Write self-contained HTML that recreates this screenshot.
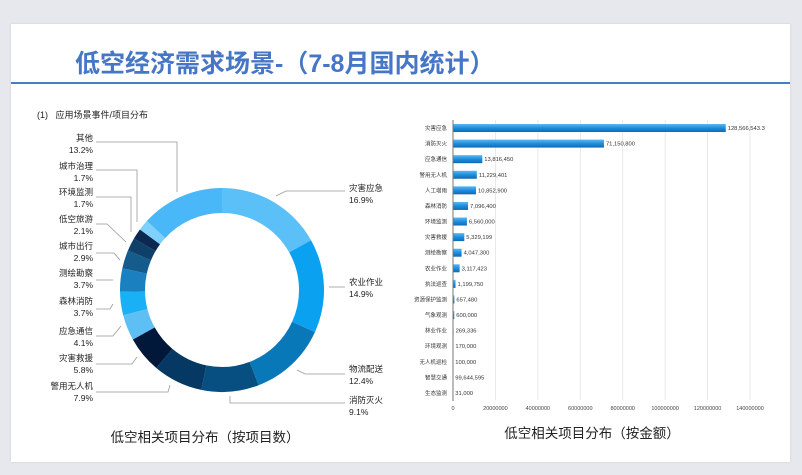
<!DOCTYPE html>
<html><head><meta charset="utf-8">
<style>
body{margin:0;width:802px;height:475px;background:#e6e8ee;overflow:hidden;font-family:"Liberation Sans","Noto Sans CJK SC",sans-serif;}
#card{position:absolute;left:11px;top:24px;width:779px;height:438px;background:#fff;box-shadow:0 0 2px #ccc;}
#title{position:absolute;left:75px;top:44px;font-size:25px;font-weight:bold;color:#4676c6;white-space:nowrap;letter-spacing:0px;}
#rule{position:absolute;left:11px;top:82px;width:779px;height:2px;background:#4a7cc0;}
svg{position:absolute;left:0;top:0;}
</style></head>
<body>
<div id="card"></div>
<div id="title">低空经济需求场景-（7-8月国内统计）</div>
<div id="rule"></div>
<svg id="chart" width="802" height="475">
<text x="37" y="118" font-size="9" fill="#222">(1)&#160;&#160;&#160;应用场景事件/项目分布</text>
<text x="205" y="442" font-size="13.5" fill="#222" text-anchor="middle">低空相关项目分布（按项目数）</text>
<text x="592" y="438" font-size="13.5" fill="#222" text-anchor="middle">低空相关项目分布（按金额）</text>
<g id="donut"></g>
<g id="bars"></g>
</svg>
<script>
const pieCats=["灾害应急","农业作业","物流配送","消防灭火","警用无人机","灾害救援","应急通信","森林消防","测绘勘察","城市出行","低空旅游","环境监测","城市治理","其他"];
const pieVals=[16.9,14.9,12.4,9.1,7.9,5.8,4.1,3.7,3.7,2.9,2.1,1.7,1.7,13.2];
const barCats=["灾害应急","消防灭火","应急通信","警用无人机","人工增雨","森林消防","环境监测","灾害救援","测绘勘察","农业作业","执法巡查","资源保护监测","气象观测","林业作业","环境观测","无人机巡检","智慧交通","生态监测"];
const barVals=[128566543.3,71150800,13816450,11229401,10852900,7096400,6560000,5329199,4047300,3117423,1199750,657480,600000,269336,170000,100000,99644.595,31000];
const barLabels=["128,566,543.3","71,150,800","13,816,450","11,229,401","10,852,900","7,096,400","6,560,000","5,329,199","4,047,300","3,117,423","1,199,750","657,480","600,000","269,336","170,000","100,000","99,644,595","31,000"];
const xTicks=[0,20000000,40000000,60000000,80000000,100000000,120000000,140000000];

const NS="http://www.w3.org/2000/svg";
function mk(tag,attrs,parent){const e=document.createElementNS(NS,tag);for(const k in attrs)e.setAttribute(k,attrs[k]);parent.appendChild(e);return e;}

// Donut
const colors=["#5bbff8","#0aa2f0","#0878b8","#064f80","#053862","#02183a","#5ebff5","#1ab0f5","#1a80c0","#155c8c","#0f406a","#0a2850","#7fd0fa","#4ab8f8"];
const cx=222,cy=290,R=102,r=77;
const dg=document.getElementById('donut');
const total=pieVals.reduce((a,b)=>a+b,0);
let ang=0;
function pt(a,rad){return [cx+rad*Math.sin(a),cy-rad*Math.cos(a)];}
pieVals.forEach((v,i)=>{
  const a0=ang/total*2*Math.PI, a1=(ang+v)/total*2*Math.PI; ang+=v;
  const large=(a1-a0)>Math.PI?1:0;
  const [x0,y0]=pt(a0,R),[x1,y1]=pt(a1,R),[x2,y2]=pt(a1,r),[x3,y3]=pt(a0,r);
  const p=mk('path',{d:`M${x0},${y0}A${R},${R} 0 ${large} 1 ${x1},${y1}L${x2},${y2}A${r},${r} 0 ${large} 0 ${x3},${y3}Z`,fill:colors[i]},dg);
  
  
});
const labPos=[[349,191,'start'],[349,285,'start'],[349,372,'start'],[349,403,'start'],[93,389,'end'],[93,361,'end'],[93,334,'end'],[93,304,'end'],[93,276,'end'],[93,249,'end'],[93,222,'end'],[93,195,'end'],[93,169,'end'],[93,141,'end']];
const leaders=["276,196 286,191 345,191","329,287 345,287","297,370 305,374 345,374","230,396 230,403 345,403","170,385 168,392 96,392","137,357 132,364 96,364","121,326 113,336 96,336","113,304 110,309 96,309","113,280 96,280","120,260 114,253 96,253","126,242 107,224 96,224","131,232 131,197 96,197","137,222 137,170 96,170","177,192 177,142 96,142"];
pieCats.forEach((c,i)=>{
  const [x,y,an]=labPos[i];
  const l=mk('polyline',{points:leaders[i],fill:'none',stroke:'#999','stroke-width':0.8},dg);
  
  
  const t=mk('text',{x:x,y:y,'font-size':8.5,fill:'#222','text-anchor':an},dg);
  
  
  t.textContent=c;
  const t2=mk('text',{x:x,y:y+12,'font-size':8.5,fill:'#222','text-anchor':an},dg);
  
  
  t2.textContent=pieVals[i].toFixed(1)+'%';
});

// Bars
const bg=document.getElementById('bars');
const x0=453,x1=750,maxT=140000000;
const xs=v=>x0+v/maxT*(x1-x0);
const yTop=128,step=(393-128)/(barCats.length-1);
const ys=i=>yTop+i*step;
const defs=mk('defs',{},bg);
const gr=mk('linearGradient',{id:'bg',x1:0,y1:0,x2:0,y2:1},defs);
mk('stop',{offset:0,'stop-color':'#5ab8f2'},gr);
mk('stop',{offset:0.5,'stop-color':'#1b8ee0'},gr);
mk('stop',{offset:1,'stop-color':'#1468b0'},gr);
xTicks.forEach(t=>{
  if(t>0){const g=mk('line',{x1:xs(t),x2:xs(t),y1:120,y2:400,stroke:'#e4e4e4','stroke-width':0.8},bg);
  
  }
  const tl=mk('text',{x:xs(t),y:410,'font-size':5.5,fill:'#444','text-anchor':'middle'},bg);
  
  
  tl.textContent=t;
});
barCats.forEach((c,i)=>{
  const y=ys(i);
  const w=Math.max(xs(barVals[i])-x0,0.3);
  const b=mk('rect',{x:x0,y:y-4,width:w,height:8,fill:'url(#bg)'},bg);
  
  
  const cl=mk('text',{x:447,y:y+2,'font-size':5.5,fill:'#333','text-anchor':'end'},bg);
  
  
  cl.textContent=c;
  const vl=mk('text',{x:x0+w+2,y:y+2,'font-size':5.8,fill:'#333'},bg);
  
  
  vl.textContent=barLabels[i];
});
const ax=mk('line',{x1:x0,x2:x0,y1:120,y2:401,stroke:'#777','stroke-width':1},bg);


</script>
</body></html>
